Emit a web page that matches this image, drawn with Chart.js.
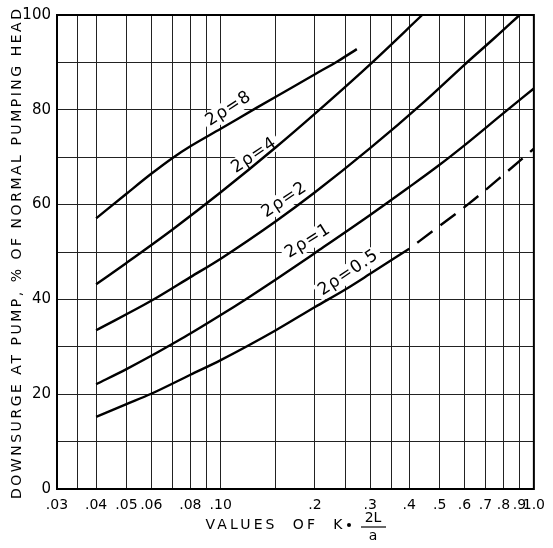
<!DOCTYPE html>
<html>
<head>
<meta charset="utf-8">
<script src="https://cdn.jsdelivr.net/npm/chart.js@4.4.1/dist/chart.umd.min.js"></script>
<style>
  html, body { margin: 0; padding: 0; background: #fff; }
  #wrap { width: 553px; height: 548px; }
</style>
</head>
<body>
<div id="wrap"><canvas id="surgeChart" width="553" height="548"></canvas></div>
<script>
// grid lines along the K*2L/a axis (log) and which of them carry a label
const kGrid = [0.03, 0.035, 0.04, 0.05, 0.06, 0.07, 0.08, 0.09, 0.1, 0.15, 0.2, 0.25, 0.3, 0.35, 0.4, 0.5, 0.6, 0.7, 0.8, 0.9, 1.0];
const kLabelled = [0.03, 0.04, 0.05, 0.06, 0.08, 0.1, 0.2, 0.3, 0.4, 0.5, 0.6, 0.7, 0.8, 0.9, 1.0];
const kLabelText = ['.03', '.04', '.05', '.06', '.08', '.10', '.2', '.3', '.4', '.5', '.6', '.7', '.8', '.9', '1.0'];
const pctLabelled = [0, 20, 40, 60, 80, 100];

// curves
const rho8K = [0.04, 0.05, 0.06, 0.07, 0.08, 0.1, 0.13, 0.17, 0.2, 0.237, 0.272];
const rho8Pct = [57.1, 62.3, 66.5, 69.8, 72.3, 76, 80.4, 84.8, 87.5, 90.3, 92.8];

const rho4K = [0.04, 0.05, 0.07, 0.1, 0.15, 0.2, 0.3, 0.44];
const rho4Pct = [43.2, 47.7, 54.7, 62.6, 72.1, 79.2, 89.6, 100];

const rho2K = [0.04, 0.06, 0.08, 0.1, 0.15, 0.2, 0.3, 0.45, 0.6, 0.75, 0.9];
const rho2Pct = [33.5, 39.7, 44.7, 48.6, 56.5, 62.6, 71.9, 81.9, 89.5, 95.2, 100];

const rho1K = [0.04, 0.05, 0.06, 0.07, 0.08, 0.1, 0.12, 0.15, 0.2, 0.3, 0.4, 0.5, 0.6, 0.8, 1.0];
const rho1Pct = [22.1, 25.3, 28.1, 30.6, 32.8, 36.7, 40, 44.2, 49.8, 57.8, 63.7, 68.4, 72.5, 79.3, 84.5];

const rhoHalfK = [0.04, 0.05, 0.06, 0.08, 0.1, 0.15, 0.2, 0.25, 0.3, 0.4];
const rhoHalfPct = [15.2, 17.9, 20.1, 24.1, 27.2, 33.5, 38.4, 42.1, 45.4, 50.7];
// extrapolated part, drawn dashed
const rhoHalfExtK = [0.4, 0.5, 0.62, 0.8, 1.0];
const rhoHalfExtPct = [50.7, 55.5, 60.2, 66.3, 71.8];

const curveNames = ['2ρ=8', '2ρ=4', '2ρ=2', '2ρ=1', '2ρ=0.5'];

const pts = (ks, ps) => ks.map((k, i) => ({ x: k, y: ps[i] }));

function line(data, dashed) {
    return {
        data: data,
        borderColor: '#000',
        borderWidth: 2.4,
        pointRadius: 0,
        fill: false,
        cubicInterpolationMode: 'monotone',
        borderDash: dashed ? [19, 10] : [],
        borderDashOffset: dashed ? 19 : 0
    };
}

// where the curve names sit (data coords) and their slant
const tagSpots = [
    { k: 0.106, pct: 80.2, angle: -33 },
    { k: 0.128, pct: 70.4, angle: -34 },
    { k: 0.16, pct: 61.0, angle: -34 },
    { k: 0.19, pct: 52.3, angle: -32 },
    { k: 0.256, pct: 45.6, angle: -34 }
];

function spacedText(ctx, text, cx, cy, target) {
    ctx.letterSpacing = '0px';
    const w0 = ctx.measureText(text).width;
    const sp = Math.max(0, (target - w0) / (text.length - 1));
    ctx.letterSpacing = sp + 'px';
    const w = ctx.measureText(text).width - sp;
    ctx.textAlign = 'left';
    ctx.fillText(text, cx - w / 2, cy);
    ctx.letterSpacing = '0px';
}

const annotate = {
    id: 'annotate',
    beforeDatasetsDraw(chart) {
        const { ctx, scales: { x, y } } = chart;
        ctx.save();
        ctx.font = '17px "DejaVu Sans"';
        ctx.letterSpacing = '1px';
        ctx.textAlign = 'center';
        ctx.textBaseline = 'middle';
        tagSpots.forEach((t, i) => {
            ctx.save();
            ctx.translate(x.getPixelForValue(t.k), y.getPixelForValue(t.pct));
            ctx.rotate(t.angle * Math.PI / 180);
            const w = ctx.measureText(curveNames[i]).width;
            ctx.fillStyle = '#fff';
            ctx.fillRect(-w / 2 - 3, -9, w + 6, 18);
            ctx.fillStyle = '#000';
            ctx.fillText(curveNames[i], 0, 0);
            ctx.restore();
        });
        ctx.restore();
    },
    afterDraw(chart) {
        const { ctx, chartArea: a } = chart;
        ctx.save();
        // frame
        ctx.strokeStyle = '#000';
        ctx.lineWidth = 2;
        ctx.strokeRect(a.left, a.top, a.right - a.left, a.bottom - a.top);

        ctx.fillStyle = '#000';
        ctx.textBaseline = 'middle';
        ctx.font = '14px "DejaVu Sans"';

        // y title
        ctx.save();
        ctx.translate(17, 254);
        ctx.rotate(-Math.PI / 2);
        spacedText(ctx, 'DOWNSURGE AT PUMP, % OF NORMAL PUMPING HEAD', 0, 0, 490);
        ctx.restore();

        // x title with the 2L/a fraction
        spacedText(ctx, 'VALUES  OF  K', 274, 525, 137);
        ctx.beginPath();
        ctx.arc(349, 525, 2, 0, Math.PI * 2);
        ctx.fill();
        ctx.textAlign = 'center';
        ctx.fillText('2L', 373, 518);
        ctx.fillText('a', 373, 536);
        ctx.lineWidth = 1.2;
        ctx.beginPath();
        ctx.moveTo(361, 527);
        ctx.lineTo(386, 527);
        ctx.stroke();
        ctx.restore();
    }
};

const ctxSurge = document.getElementById('surgeChart').getContext('2d');
const surgeChart = new Chart(ctxSurge, {
    type: 'line',
    data: {
        datasets: [
            line(pts(rho8K, rho8Pct)),
            line(pts(rho4K, rho4Pct)),
            line(pts(rho2K, rho2Pct)),
            line(pts(rho1K, rho1Pct)),
            line(pts(rhoHalfK, rhoHalfPct)),
            line(pts(rhoHalfExtK, rhoHalfExtPct), true)
        ]
    },
    options: {
        responsive: false,
        animation: false,
        devicePixelRatio: 1,
        layout: { padding: { left: 0, right: 15, top: 9, bottom: 0 } },
        plugins: {
            legend: { display: false },
            tooltip: { enabled: false }
        },
        scales: {
            x: {
                type: 'logarithmic',
                min: 0.03,
                max: 1.0,
                afterBuildTicks: (s) => { s.ticks = kGrid.map(v => ({ value: v })); },
                afterFit: (s) => { s.height = 59; },
                ticks: {
                    autoSkip: false,
                    maxRotation: 0,
                    minRotation: 0,
                    padding: 8,
                    color: '#000',
                    font: { family: 'DejaVu Sans', size: 14 },
                    callback: (v) => {
                        const i = kLabelled.indexOf(v);
                        return i < 0 ? '' : kLabelText[i];
                    }
                },
                grid: { color: '#222', lineWidth: 1, drawTicks: false },
                border: { color: '#000', width: 2 }
            },
            y: {
                min: 0,
                max: 100,
                afterFit: (s) => { s.width = 57; },
                ticks: {
                    stepSize: 10,
                    padding: 6,
                    color: '#000',
                    font: { family: 'DejaVu Sans', size: 15 },
                    callback: (v) => pctLabelled.includes(v) ? String(v) : ''
                },
                grid: { color: '#222', lineWidth: 1, drawTicks: false },
                border: { color: '#000', width: 2 }
            }
        }
    },
    plugins: [annotate]
});
</script>
</body>
</html>
